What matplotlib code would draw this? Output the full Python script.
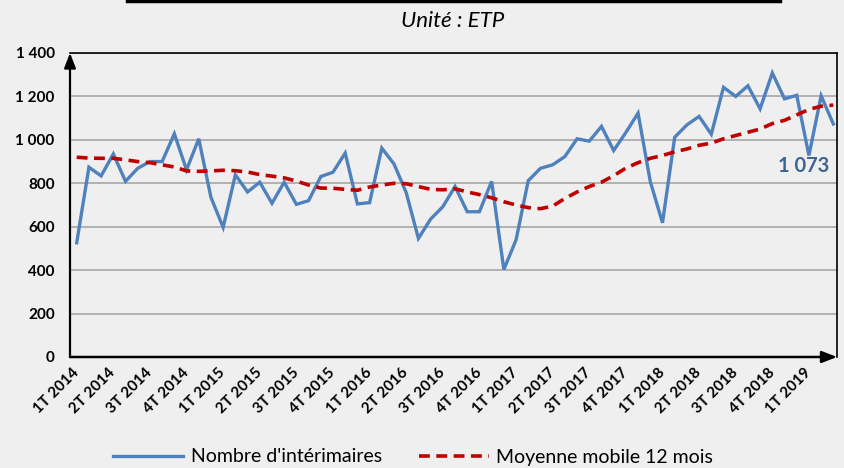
import matplotlib
matplotlib.use("Agg")
import matplotlib.pyplot as plt
from matplotlib.lines import Line2D

plt.rcParams["font.family"] = ["Lato", "DejaVu Sans"]

# monthly values, Jan 2014 -> Mar 2019
interimaires = [
    526, 874, 834, 935, 809, 869, 900, 900, 1028, 862, 1005, 735,
    597, 839, 760, 805, 708, 805, 703, 720, 831, 851, 939, 705,
    711, 962, 889, 757, 546, 635, 692, 785, 669, 669, 809, 403,
    539, 812, 869, 885, 923, 1005, 994, 1062, 951, 1034, 1123, 808,
    618, 1012, 1069, 1108, 1026, 1242, 1200, 1249, 1143, 1308, 1189, 1205,
    928, 1203, 1073,
]
moyenne_mobile = [
    920, 916, 915, 915, 908, 900, 895, 885, 875, 857, 855, 857,
    860, 858, 852, 840, 833, 825, 810, 792, 778, 777, 772, 768,
    783, 792, 800, 798, 785, 772, 770, 775, 760, 748, 733, 715,
    700, 688, 683, 695, 730, 760, 785, 805, 835, 870, 895, 915,
    928, 945, 958, 975, 985, 1005, 1020, 1035, 1050, 1075, 1090, 1115,
    1140, 1155, 1160,
]
quarter_labels = [
    "1T 2014", "2T 2014", "3T 2014", "4T 2014",
    "1T 2015", "2T 2015", "3T 2015", "4T 2015",
    "1T 2016", "2T 2016", "3T 2016", "4T 2016",
    "1T 2017", "2T 2017", "3T 2017", "4T 2017",
    "1T 2018", "2T 2018", "3T 2018", "4T 2018",
    "1T 2019",
]
yticks = [0, 200, 400, 600, 800, 1000, 1200, 1400]
ytick_labels = ["0", "200", "400", "600", "800", "1 000", "1 200", "1 400"]

bg = "#EFEFEF"
blue = "#4F81BD"
red = "#C00000"

fig = plt.figure(figsize=(8.44, 4.68), dpi=100, facecolor=bg)
ax = fig.add_axes([70 / 844, 111 / 468, 767 / 844, 304 / 468])
ax.set_facecolor(bg)

months = list(range(len(interimaires)))
ax.plot(months, interimaires, color=blue, lw=2.4, solid_joinstyle="miter",
        label="Nombre d'intérimaires", zorder=3)
ax.plot(months, moyenne_mobile, color=red, lw=2.6, dashes=(3.0, 1.8),
        label="Moyenne mobile 12 mois", zorder=4)

ax.set_xlim(-0.55, 62.3)
ax.set_ylim(0, 1400)
ax.set_yticks(yticks)
ax.set_yticklabels(ytick_labels, fontsize=11, fontweight="bold")
ax.set_xticks(range(0, len(interimaires), 3))
ax.set_xticklabels(quarter_labels, rotation=45, ha="right", va="center",
                   rotation_mode="anchor", fontsize=11, fontweight="bold")
ax.tick_params(axis="y", length=0, pad=11)
ax.tick_params(axis="x", length=0, pad=10)
ax.grid(axis="y", color="#A6A6A6", lw=1.2)
ax.set_axisbelow(True)

for side in ["left", "bottom"]:
    ax.spines[side].set_visible(False)
for side in ["top", "right"]:
    ax.spines[side].set_color("black")
    ax.spines[side].set_linewidth(1.2)

# axis arrows
ax.annotate("", xy=(0, 1.0), xytext=(0, 0), xycoords="axes fraction",
            arrowprops=dict(arrowstyle="-|>,head_length=0.9,head_width=0.35",
                            color="black", lw=1.6, shrinkA=0, shrinkB=0))
ax.annotate("", xy=(1.0, 0), xytext=(0, 0), xycoords="axes fraction",
            arrowprops=dict(arrowstyle="-|>,head_length=0.9,head_width=0.35",
                            color="black", lw=1.8, shrinkA=0, shrinkB=0))

# last value label
ax.annotate("1 073", xy=(months[-1], interimaires[-1]), xytext=(-3, -30),
            textcoords="offset points", ha="right", va="center",
            fontsize=14.5, fontweight="bold", color="#3C6596")

fig.add_artist(Line2D([127 / 844, 780 / 844], [1 - 1 / 468, 1 - 1 / 468],
                      color="black", lw=2.5))
fig.text(453 / 844, 1 - 21 / 468, "Unité : ETP", ha="center", va="center",
         fontsize=16, style="italic")

fig.legend(loc="center", bbox_to_anchor=(413 / 844, 1 - 457 / 468), ncol=2,
           frameon=False, fontsize=14, handlelength=3.6, columnspacing=1.9,
           handletextpad=0.4)

fig.savefig("out.png", dpi=100, facecolor=bg)
